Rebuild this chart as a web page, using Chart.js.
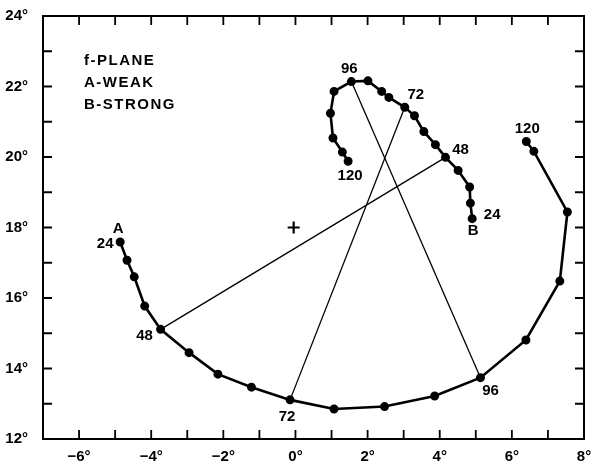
<!DOCTYPE html>
<html>
<head>
<meta charset="utf-8">
<script src="https://cdn.jsdelivr.net/npm/chart.js@4"></script>
<style>
  body { margin: 0; background: #fff; }
</style>
</head>
<body>
<canvas id="chart" width="602" height="465"></canvas>
<script>
// Track A (weak) - positions every 6 h from 24 to 120
const trackAx = [-4.86, -4.67, -4.47, -4.18, -3.74, -2.95, -2.15, -1.22, -0.15, 1.07, 2.47, 3.86, 5.13, 6.39, 7.33, 7.54, 6.61, 6.40];
const trackAy = [17.59, 17.07, 16.60, 15.77, 15.11, 14.45, 13.84, 13.47, 13.11, 12.85, 12.92, 13.22, 13.74, 14.81, 16.48, 18.44, 20.16, 20.44];

// Track B (strong)
const trackBx = [4.90, 4.85, 4.83, 4.51, 4.16, 3.88, 3.56, 3.30, 3.03, 2.59, 2.39, 2.01, 1.55, 1.07, 0.97, 1.04, 1.30, 1.46];
const trackBy = [18.25, 18.69, 19.15, 19.62, 19.99, 20.35, 20.72, 21.17, 21.41, 21.69, 21.86, 22.16, 22.14, 21.86, 21.24, 20.54, 20.14, 19.88];

// hour labels and which point they belong to
const hourLabels = ['24', '48', '72', '96', '120'];
const hourIndex = [0, 4, 8, 12, 17];
// pairs joined by a thin line (48, 72, 96 h)
const joinIndex = [4, 8, 12];

// initial position
const centreX = [-0.05];
const centreY = [18.0];

const legendLines = ['f-PLANE', 'A-WEAK', 'B-STRONG'];

// pixel offsets of the hour labels (A then B)
const offA = [[-15, 2], [-16, 6], [-3, 17], [10, 13], [1, -13]];
const offB = [[20, -4], [15, -7], [11, -12], [-2, -13], [2, 15]];

function pts(xs, ys) {
    return xs.map((x, i) => ({ x: x, y: ys[i] }));
}

const datasets = [];
joinIndex.forEach(i => {
    datasets.push({
        data: [{ x: trackAx[i], y: trackAy[i] }, { x: trackBx[i], y: trackBy[i] }],
        showLine: true,
        borderColor: '#000',
        borderWidth: 1.3,
        pointRadius: 0
    });
});
datasets.push({
    data: pts(trackAx, trackAy),
    showLine: true,
    borderColor: '#000',
    backgroundColor: '#000',
    borderWidth: 2.6,
    pointRadius: 3.2
});
datasets.push({
    data: pts(trackBx, trackBy),
    showLine: true,
    borderColor: '#000',
    backgroundColor: '#000',
    borderWidth: 2.6,
    pointRadius: 3.2
});
datasets.push({
    data: pts(centreX, centreY),
    pointStyle: 'cross',
    pointRadius: 6,
    borderColor: '#000',
    borderWidth: 2.2
});

const fmt = v => (v < 0 ? '\u2212' + Math.abs(v) : String(v)) + '°';
const FONT = '"Liberation Sans", Arial, sans-serif';

// inward ticks on all four sides, plus top/right frame
const frame = {
    id: 'frame',
    afterDatasetsDraw(chart) {
        const ctx = chart.ctx, a = chart.chartArea;
        const xs = chart.scales.x, ys = chart.scales.y;
        ctx.save();
        ctx.strokeStyle = '#000';
        ctx.lineWidth = 2;
        ctx.strokeRect(a.left, a.top, a.right - a.left, a.bottom - a.top);
        ctx.lineWidth = 1.8;
        const L = 9;
        for (let v = xs.min + 1; v < xs.max; v++) {
            const p = xs.getPixelForValue(v);
            ctx.beginPath();
            ctx.moveTo(p, a.bottom); ctx.lineTo(p, a.bottom - L);
            ctx.moveTo(p, a.top); ctx.lineTo(p, a.top + L);
            ctx.stroke();
        }
        for (let v = ys.min + 1; v < ys.max; v++) {
            const p = ys.getPixelForValue(v);
            ctx.beginPath();
            ctx.moveTo(a.left, p); ctx.lineTo(a.left + L, p);
            ctx.moveTo(a.right, p); ctx.lineTo(a.right - L, p);
            ctx.stroke();
        }

        // hour labels
        ctx.fillStyle = '#000';
        ctx.font = 'bold 15px ' + FONT;
        ctx.textAlign = 'center';
        ctx.textBaseline = 'middle';
        hourIndex.forEach((idx, k) => {
            ctx.fillText(hourLabels[k], xs.getPixelForValue(trackAx[idx]) + offA[k][0], ys.getPixelForValue(trackAy[idx]) + offA[k][1]);
            ctx.fillText(hourLabels[k], xs.getPixelForValue(trackBx[idx]) + offB[k][0], ys.getPixelForValue(trackBy[idx]) + offB[k][1]);
        });
        ctx.fillText('A', xs.getPixelForValue(trackAx[0]) - 2, ys.getPixelForValue(trackAy[0]) - 13);
        ctx.fillText('B', xs.getPixelForValue(trackBx[0]) + 1, ys.getPixelForValue(trackBy[0]) + 12);

        // legend block
        ctx.textAlign = 'left';
        ctx.letterSpacing = '1.5px';
        legendLines.forEach((t, i) => {
            ctx.fillText(t, 84, 61 + i * 22);
        });
        ctx.restore();
    }
};

new Chart(document.getElementById('chart'), {
    type: 'scatter',
    data: { datasets: datasets },
    options: {
        responsive: false,
        animation: false,
        layout: { padding: { top: 15, right: 18, left: 0, bottom: 0 } },
        plugins: { legend: { display: false }, tooltip: { enabled: false } },
        scales: {
            x: {
                type: 'linear',
                min: -7,
                max: 8,
                afterFit: s => { s.height = 26; },
                grid: { display: false },
                border: { display: false },
                ticks: {
                    stepSize: 1,
                    autoSkip: false,
                    maxRotation: 0,
                    padding: 1,
                    color: '#000',
                    font: { family: FONT, size: 15, weight: 'bold' },
                    callback: v => (v % 2 === 0 ? fmt(v) : '')
                }
            },
            y: {
                type: 'linear',
                min: 12,
                max: 24,
                afterFit: s => { s.width = 43; },
                grid: { display: false },
                border: { display: false },
                ticks: {
                    stepSize: 1,
                    autoSkip: false,
                    padding: 7,
                    color: '#000',
                    font: { family: FONT, size: 15, weight: 'bold' },
                    callback: v => (v % 2 === 0 ? fmt(v) : '')
                }
            }
        }
    },
    plugins: [frame]
});
</script>
</body>
</html>
